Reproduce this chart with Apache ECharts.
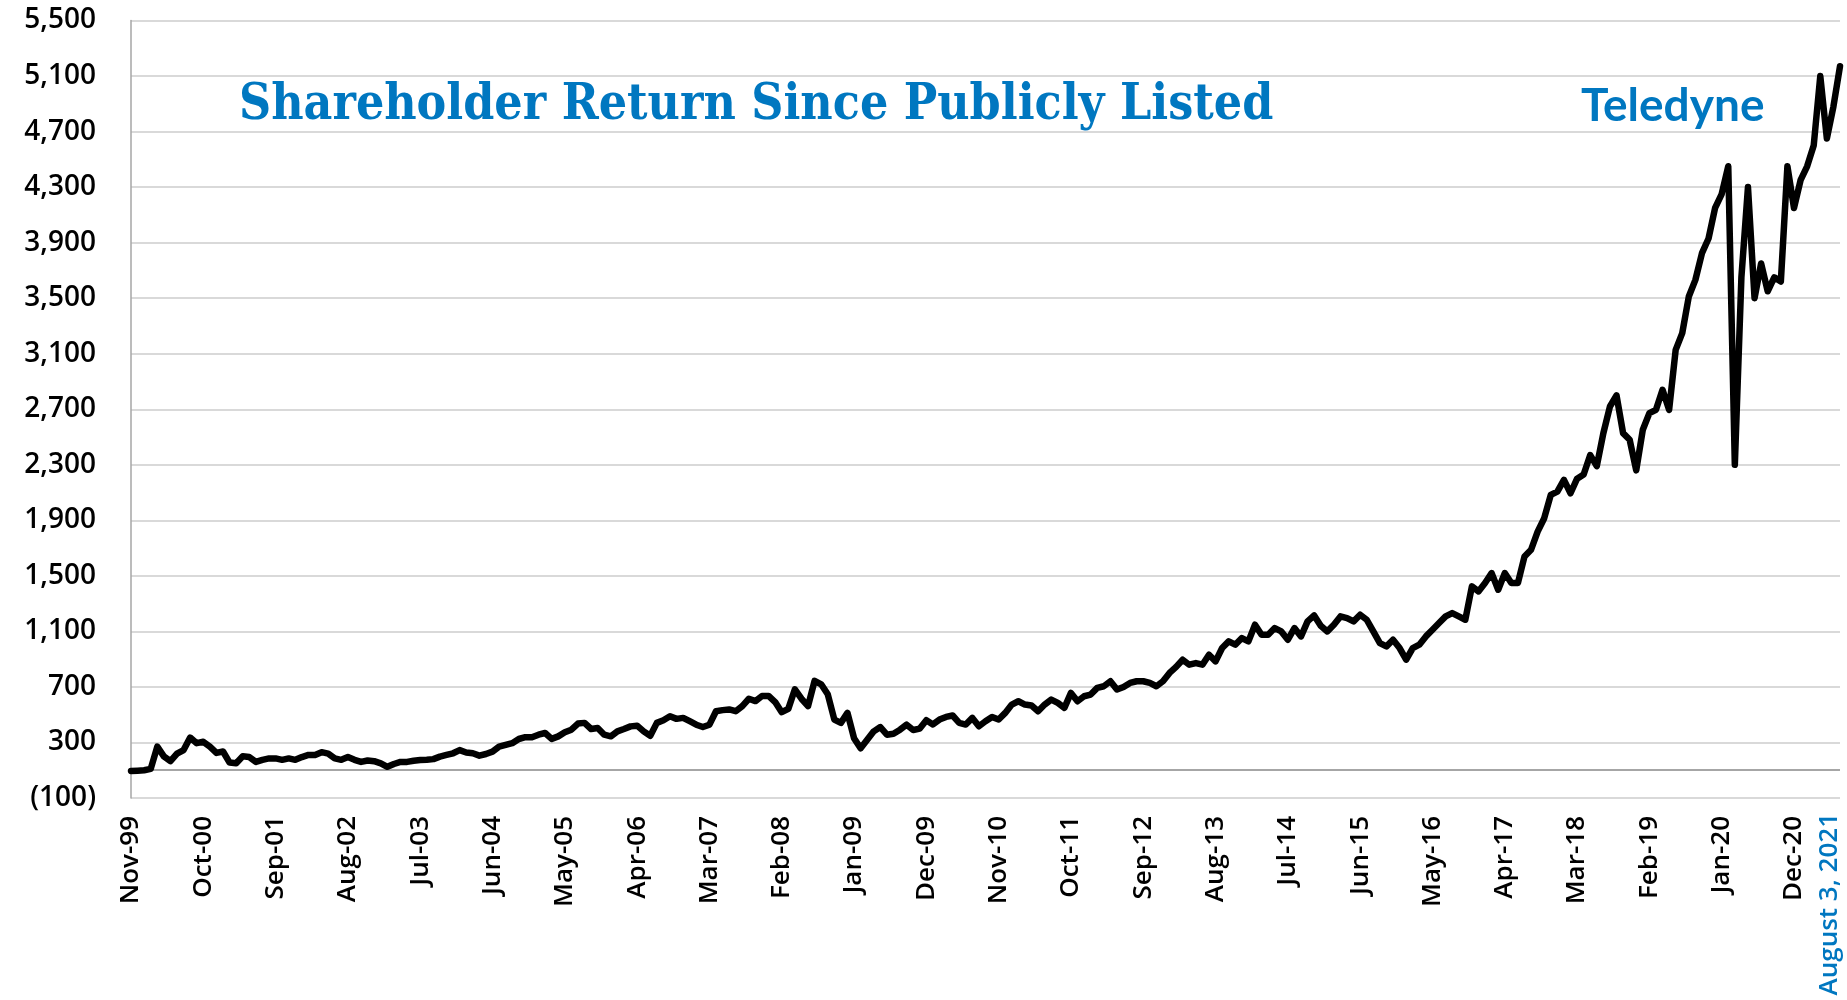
<!DOCTYPE html>
<html>
<head>
<meta charset="utf-8">
<script src="https://cdn.jsdelivr.net/npm/echarts@6/dist/echarts.min.js"></script>
<style>
    html, body { margin: 0; padding: 0; background: #fff; }
    #chart { width: 1847px; height: 1000px; }
</style>
</head>
<body>
<div id="chart"></div>
<script>
// monthly readings, first month Nov-99
const startYear = 1999;
const startMonth = 10; // November, 0-based
const monthNames = ["Jan", "Feb", "Mar", "Apr", "May", "Jun", "Jul", "Aug", "Sep", "Oct", "Nov", "Dec"];

// shareholder return index, one reading per month
const returns = [
    95, 97, 100, 110, 270, 200, 165, 220, 245, 335,
    295, 305, 270, 225, 235, 155, 150, 200, 195, 160,
    175, 185, 185, 175, 185, 175, 195, 210, 210, 230,
    220, 185, 175, 195, 175, 160, 170, 165, 150, 125,
    145, 160, 160, 168, 173, 175, 180, 198, 210, 222,
    245, 228, 222, 205, 217, 234, 270, 283, 295, 325,
    338, 338, 356, 368, 326, 344, 373, 392, 436, 441,
    397, 404, 356, 344, 380, 397, 416, 421, 380, 348,
    441, 460, 489, 470, 477, 453, 428, 411, 428, 525,
    533, 538, 525, 562, 615, 598, 635, 635, 591, 518,
    542, 683, 615, 562, 744, 719, 647, 465, 441, 513,
    331, 258, 319, 380, 411, 356, 363, 392, 428, 390,
    400, 460, 430, 465, 484, 494, 441, 429, 477, 417,
    453, 484, 465, 513, 573, 597, 573, 566, 525, 573,
    609, 585, 549, 657, 597, 633, 645, 693, 705, 741,
    681, 700, 729, 741, 741, 729, 705, 741, 801, 844,
    896, 860, 872, 860, 932, 884, 980, 1028, 1004, 1052,
    1028, 1148, 1076, 1076, 1124, 1100, 1040, 1124, 1064, 1172,
    1215, 1140, 1100, 1148, 1208, 1196, 1172, 1220, 1184, 1100,
    1016, 992, 1040, 980, 896, 980, 1004, 1064, 1112, 1160,
    1208, 1232, 1208, 1184, 1424, 1388, 1448, 1520, 1400, 1520,
    1448, 1448, 1640, 1688, 1819, 1915, 2083, 2107, 2191, 2095,
    2200, 2230, 2370, 2290, 2528, 2720, 2800, 2528, 2480, 2260,
    2552, 2672, 2696, 2840, 2696, 3128, 3248, 3512, 3632, 3824,
    3930, 4150, 4250, 4450, 2300, 3650, 4300, 3500, 3750, 3550,
    3650, 3620, 4450, 4150, 4350, 4450, 4600, 5100, 4650, 4880,
    5170
];

const months = returns.map((v, i) => {
    const m = startMonth + i;
    const yy = (startYear + Math.floor(m / 12)) % 100;
    return monthNames[m % 12] + "-" + String(yy).padStart(2, "0");
});

const labelEvery = 11; // Nov-99, Oct-00, Sep-01 ... Dec-20
const yMin = -100, yMax = 5500, yStep = 400;
const baseLine = 100;

const blue = "#0077c0";

function fmtY(v) {
    const s = Math.abs(v).toLocaleString("en-US");
    return v < 0 ? "(" + s + ")" : s;
}

let myChart = echarts.init(document.getElementById("chart"));
let option = {
    animation: false,
    grid: {
        left: 131,
        right: 7,
        top: 20.5,
        bottom: 202
    },
    xAxis: {
        type: "category",
        boundaryGap: false,
        data: months,
        axisLine: { show: false },
        axisTick: { show: false },
        splitLine: { show: false },
        axisLabel: {
            interval: (idx) => idx % labelEvery === 0,
            hideOverlap: false,
            rotate: 90,
            margin: 18,
            color: "#000",
            fontFamily: "Open Sans",
            fontWeight: 600,
            fontSize: 26
        }
    },
    yAxis: {
        type: "value",
        min: yMin,
        max: yMax,
        interval: yStep,
        axisLine: { show: true, lineStyle: { color: "#a6a6a6", width: 1.5 } },
        axisTick: { show: false },
        splitLine: { lineStyle: { color: "#d9d9d9", width: 2 } },
        axisLabel: {
            margin: 35,
            color: "#000",
            fontFamily: "Open Sans",
            fontWeight: 600,
            fontSize: 28,
            formatter: fmtY
        }
    },
    series: [
        {
            type: "line",
            data: returns,
            showSymbol: false,
            smooth: false,
            lineStyle: { color: "#000", width: 6.5, join: "round", cap: "round" },
            markLine: {
                silent: true,
                symbol: "none",
                label: { show: false },
                lineStyle: { color: "#a6a6a6", width: 2, type: "solid" },
                data: [{ yAxis: baseLine }]
            },
            z: 5
        }
    ],
    graphic: [
        {
            type: "text",
            x: 239,
            y: 106,
            style: {
                text: "Shareholder Return Since Publicly Listed",
                fill: blue,
                font: 'bold 49.5px "DejaVu Serif Condensed", "DejaVu Serif"',
                align: "left",
                verticalAlign: "middle"
            }
        },
        {
            type: "text",
            x: 1581,
            y: 106,
            style: {
                text: "Teledyne",
                fill: blue,
                font: 'bold 46px "Lato"',
                align: "left",
                verticalAlign: "middle"
            }
        },
        {
            type: "text",
            x: 1830,
            y: 813,
            rotation: Math.PI / 2,
            style: {
                text: "August 3, 2021",
                fill: blue,
                font: '600 26px "Open Sans"',
                align: "right",
                verticalAlign: "middle"
            }
        }
    ]
};

myChart.setOption(option);
</script>
</body>
</html>
